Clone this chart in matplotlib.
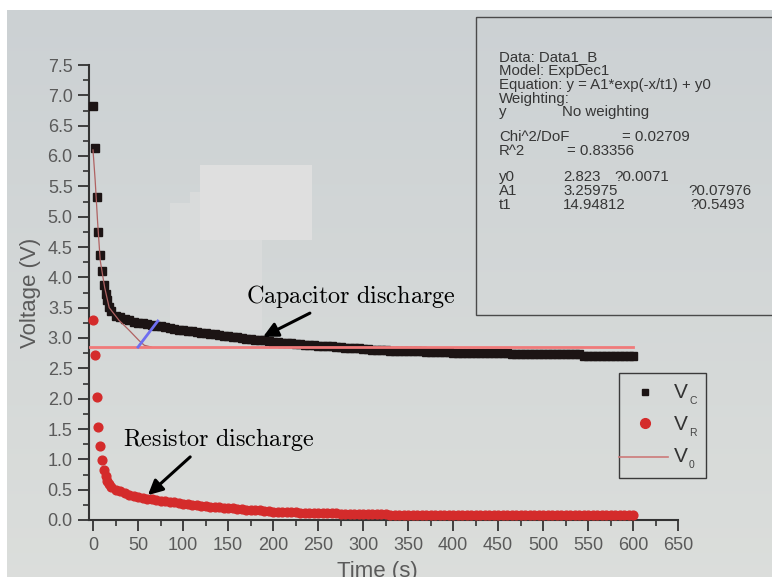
import numpy as np
import matplotlib
matplotlib.use("Agg")
import matplotlib.pyplot as plt
from matplotlib.patches import Rectangle, Polygon
from matplotlib.lines import Line2D
from matplotlib.ticker import MultipleLocator, FormatStrFormatter

plt.rcParams['font.family'] = ['Liberation Sans', 'DejaVu Sans']
plt.rcParams['mathtext.fontset'] = 'cm'

# ---------------- DATA ----------------
# sample times (s): every 2 s at the start, then every 5 s
T_EARLY = [0, 2, 4, 6, 8, 10, 12, 14, 16, 18]
T_LATE = list(range(20, 601, 5))

# capacitor voltage V_C (V)
VC_EARLY = [6.82, 6.13, 5.32, 4.74, 4.36, 4.10, 3.87, 3.72, 3.62, 3.51]
VC_LATE = [
    3.44, 3.37, 3.34, 3.31, 3.29, 3.27, 3.25, 3.24, 3.23, 3.21,
    3.20, 3.19, 3.18, 3.16, 3.15, 3.14, 3.13, 3.12, 3.11, 3.10,
    3.09, 3.08, 3.07, 3.06, 3.05, 3.04, 3.03, 3.02, 3.01, 3.00,
    2.99, 2.98, 2.97, 2.96, 2.96, 2.95, 2.94, 2.93, 2.92, 2.92,
    2.91, 2.90, 2.90, 2.89, 2.88, 2.88, 2.87, 2.87, 2.86, 2.86,
    2.85, 2.85, 2.84, 2.84, 2.83, 2.83, 2.82, 2.82, 2.81, 2.81,
    2.80, 2.80, 2.79, 2.79, 2.78, 2.78, 2.78, 2.78, 2.78, 2.78,
    2.77, 2.77, 2.77, 2.77, 2.77, 2.77, 2.76, 2.76, 2.76, 2.76,
    2.76, 2.76, 2.76, 2.76, 2.76, 2.76, 2.76, 2.76, 2.76, 2.74,
    2.74, 2.74, 2.74, 2.74, 2.73, 2.73, 2.73, 2.73, 2.73, 2.73,
    2.73, 2.73, 2.73, 2.73, 2.73, 2.71, 2.71, 2.71, 2.71, 2.71,
    2.71, 2.71, 2.71, 2.71, 2.71, 2.70, 2.70,
]

# resistor voltage V_R (V)
VR_EARLY = [3.30, 2.72, 2.02, 1.53, 1.22, 0.99, 0.83, 0.72, 0.64, 0.59]
VR_LATE = [
    0.55, 0.50, 0.47, 0.44, 0.42, 0.40, 0.38, 0.36, 0.35, 0.34,
    0.33, 0.32, 0.31, 0.30, 0.29, 0.28, 0.27, 0.26, 0.25, 0.24,
    0.23, 0.23, 0.22, 0.21, 0.21, 0.20, 0.19, 0.19, 0.18, 0.18,
    0.17, 0.17, 0.16, 0.16, 0.15, 0.15, 0.14, 0.14, 0.14, 0.13,
    0.13, 0.13, 0.12, 0.12, 0.12, 0.12, 0.11, 0.11, 0.11, 0.11,
    0.11, 0.10, 0.10, 0.10, 0.10, 0.10, 0.10, 0.10, 0.10, 0.10,
    0.10, 0.10, 0.09, 0.09, 0.09, 0.09, 0.09, 0.09, 0.09, 0.09,
    0.09, 0.09, 0.09, 0.09, 0.09, 0.09, 0.09, 0.09, 0.09, 0.09,
    0.09, 0.09, 0.08, 0.08, 0.08, 0.08, 0.08, 0.08, 0.08, 0.08,
    0.08, 0.08, 0.08, 0.08, 0.08, 0.08, 0.08, 0.08, 0.08, 0.08,
    0.08, 0.08, 0.08, 0.08, 0.08, 0.08, 0.08, 0.08, 0.08, 0.08,
    0.08, 0.08, 0.08, 0.08, 0.08, 0.08, 0.08,
]

# ExpDec1 fit curve as drawn on screen
FIT_T = [0, 2.4, 5, 8, 13, 18, 29, 40, 51, 57, 65]
FIT_V = [6.10, 5.60, 4.94, 4.28, 3.83, 3.50, 3.29, 3.13, 2.96, 2.88, 2.85]

# V0 reference line
V0_T = [-3, 600]
V0_V = [2.85, 2.85]

# stray blue handle on the screen
BLUE_T = [50, 72]
BLUE_V = [2.85, 3.28]

# fit report text: (row centre y in px, [(x px, text), ...])
FIT_REPORT = [
    (57, [(499, "Data: Data1_B")]),
    (71, [(499, "Model: ExpDec1")]),
    (85, [(499, "Equation: y = A1*exp(-x/t1) + y0")]),
    (99, [(499, "Weighting:")]),
    (112, [(499, "y"), (562, "No weighting")]),
    (137, [(499, "Chi^2/DoF"), (622, "= 0.02709")]),
    (151, [(499, "R^2"), (567, "= 0.83356")]),
    (177, [(499, "y0"), (563, "2.823"), (614, "?0.0071")]),
    (191, [(499, "A1"), (563, "3.25975"), (688, "?0.07976")]),
    (205, [(499, "t1"), (563, "14.94812"), (690, "?0.5493")]),
]
LEGEND_NAMES = ["C", "R", "0"]
# --------------------------------------

T = T_EARLY + T_LATE
VC = VC_EARLY + VC_LATE
VR = VR_EARLY + VR_LATE

W, H = 772, 577
fig = plt.figure(figsize=(W / 100, H / 100), dpi=100, facecolor='white')

# photo background (screen)
bg = fig.add_axes([0, 0, 1, 1], zorder=-10)
bg.set_axis_off()
bg.set_xlim(0, W)
bg.set_ylim(H, 0)
top_c = np.array([0.80, 0.82, 0.83])
bot_c = np.array([0.86, 0.87, 0.86])
frac = np.linspace(0, 1, 200)[:, None, None]
grad = top_c * (1 - frac) + bot_c * frac
bg.imshow(grad, extent=[7, W, H, 10], aspect='auto', interpolation='bilinear')
bg.add_patch(Polygon([(200, 165), (312, 165), (312, 240), (262, 240), (262, 330),
                      (170, 330), (170, 203), (190, 203), (190, 192), (200, 192)],
                     closed=True, facecolor='#dcdddd', edgecolor='none', alpha=0.8))
bg.add_patch(Rectangle((200, 165), 112, 75, facecolor='#e2e2e2', edgecolor='none', alpha=0.7))

# fit report box
bg.add_patch(Rectangle((476, 17), 310, 298, fill=False, edgecolor='#4a4a4a', lw=1.0))
for row_y, cells in FIT_REPORT:
    for x, s in cells:
        bg.text(x, row_y, s, fontsize=10.8, color='#363636', va='center', ha='left')

# legend box
bg.add_patch(Rectangle((619, 373), 87, 105, fill=False, edgecolor='#3a3a3a', lw=1.0))
bg.add_line(Line2D([645], [392], marker='s', ms=5, color='#1c1414', ls='none'))
bg.add_line(Line2D([645], [423], marker='o', ms=7, color='#d42b2b', ls='none'))
bg.add_line(Line2D([619, 668], [457, 457], color='#cc7a7a', lw=1.2))
for i, name in enumerate(LEGEND_NAMES):
    yc = 392 + i * 32
    bg.text(674, yc, "V", fontsize=15, color='#333333', va='center', ha='left')
    bg.text(689, yc + 9, name, fontsize=7.5, color='#444444', va='center', ha='left')

# main axes
ax = fig.add_axes([89.4 / W, 57 / H, 588.6 / W, 455 / H])
ax.patch.set_alpha(0)
ax.set_xlim(-4, 650)
ax.set_ylim(0, 7.5)
for s in ['top', 'right']:
    ax.spines[s].set_visible(False)
for s in ['left', 'bottom']:
    ax.spines[s].set_color('#333333')
    ax.spines[s].set_linewidth(1.5)

ax.xaxis.set_major_locator(MultipleLocator(50))
ax.xaxis.set_minor_locator(MultipleLocator(25))
ax.yaxis.set_major_locator(MultipleLocator(0.5))
ax.yaxis.set_minor_locator(MultipleLocator(0.25))
ax.yaxis.set_major_formatter(FormatStrFormatter('%.1f'))
ax.tick_params(which='major', direction='out', length=8, width=1.3, color='#333333',
               labelcolor='#5a5a5a', labelsize=13, pad=4)
ax.tick_params(which='minor', direction='out', length=4, width=1.2, color='#333333')

ax.set_ylabel("Voltage (V)", fontsize=16, color='#5a5a5a')
ax.yaxis.set_label_coords(-0.082, 0.5)
ax.set_xlabel("Time (s)", fontsize=16, color='#5a5a5a')
ax.xaxis.set_label_coords(0.49, -0.09)

ax.plot(T, VC, 's', ms=5.4, color='#1c1414', mec='#1c1414', zorder=3, clip_on=False)
ax.plot(T, VR, 'o', ms=6.3, color='#d42b2b', mec='#d42b2b', zorder=3, clip_on=False)
ax.plot(FIT_T, FIT_V, '-', color='#b06262', lw=0.9, zorder=4)
ax.plot(V0_T, V0_V, '-', color='#f07a7a', lw=2.0, zorder=5, clip_on=False)
ax.plot(BLUE_T, BLUE_V, '-', color='#6e6ef0', lw=2.0, zorder=5)

arrow = dict(arrowstyle='-|>', color='black', lw=2.2, mutation_scale=22, shrinkA=0, shrinkB=0)
ax.text(286, 3.68, r'$\mathrm{Capacitor\ discharge}$', fontsize=17.4, ha='center', va='center')
ax.annotate('', xy=(189, 3.02), xytext=(241, 3.41), arrowprops=arrow, zorder=6)
ax.text(140, 1.32, r'$\mathrm{Resistor\ discharge}$', fontsize=17.4, ha='center', va='center')
ax.annotate('', xy=(61, 0.41), xytext=(108, 1.04), arrowprops=arrow, zorder=6)

fig.savefig("out.png", dpi=100, facecolor='white')
